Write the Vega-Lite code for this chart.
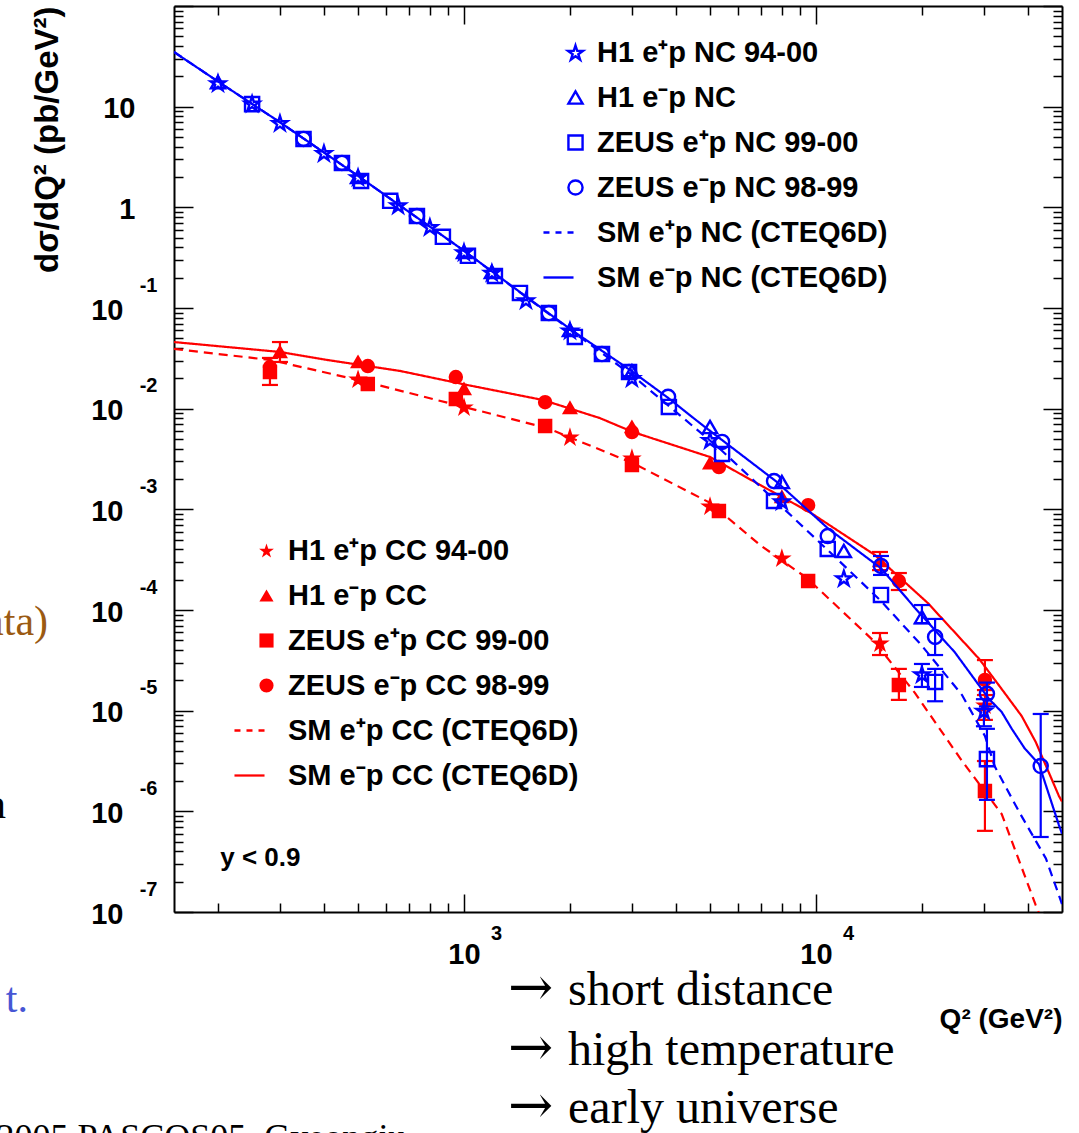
{
  "$schema": "https://vega.github.io/schema/vega-lite/v6.json",
  "width": 888,
  "height": 906,
  "autosize": {"type": "none"},
  "padding": {"left": 174, "top": 6, "right": 17, "bottom": 221},
  "background": "white",
  "config": {"view": {"stroke": null}, "font": "Liberation Sans"},
  "datasets": {
    "ncp": [
      {"s": "H1 e⁺p NC 94-00", "q": 200, "v": 17.2},
      {"s": "H1 e⁺p NC 94-00", "q": 250, "v": 10.8},
      {"s": "H1 e⁺p NC 94-00", "q": 300, "v": 6.9},
      {"s": "H1 e⁺p NC 94-00", "q": 400, "v": 3.47},
      {"s": "H1 e⁺p NC 94-00", "q": 500, "v": 2.0},
      {"s": "H1 e⁺p NC 94-00", "q": 650, "v": 1.05},
      {"s": "H1 e⁺p NC 94-00", "q": 800, "v": 0.64},
      {"s": "H1 e⁺p NC 94-00", "q": 1000, "v": 0.36},
      {"s": "H1 e⁺p NC 94-00", "q": 1200, "v": 0.225},
      {"s": "H1 e⁺p NC 94-00", "q": 1500, "v": 0.12},
      {"s": "H1 e⁺p NC 94-00", "q": 2000, "v": 0.06},
      {"s": "H1 e⁺p NC 94-00", "q": 3000, "v": 0.0202},
      {"s": "H1 e⁺p NC 94-00", "q": 5000, "v": 0.00489},
      {"s": "H1 e⁺p NC 94-00", "q": 8000, "v": 0.00121},
      {"s": "H1 e⁺p NC 94-00", "q": 12000, "v": 0.000208},
      {"s": "H1 e⁺p NC 94-00", "q": 20000, "v": 2.31e-5, "lo": 1.72e-5, "hi": 2.91e-5},
      {"s": "H1 e⁺p NC 94-00", "q": 30000, "v": 1.0e-5, "lo": 7e-6, "hi": 1.3e-5},
      {"s": "H1 e⁻p NC", "q": 200, "v": 17.5},
      {"s": "H1 e⁻p NC", "q": 500, "v": 2.0},
      {"s": "H1 e⁻p NC", "q": 1000, "v": 0.36},
      {"s": "H1 e⁻p NC", "q": 1200, "v": 0.228},
      {"s": "H1 e⁻p NC", "q": 2000, "v": 0.0605},
      {"s": "H1 e⁻p NC", "q": 3000, "v": 0.0235},
      {"s": "H1 e⁻p NC", "q": 5000, "v": 0.00658},
      {"s": "H1 e⁻p NC", "q": 8000, "v": 0.00187},
      {"s": "H1 e⁻p NC", "q": 12000, "v": 0.000386},
      {"s": "H1 e⁻p NC", "q": 20000, "v": 8.5e-5, "lo": 7.4e-5, "hi": 1.12e-4},
      {"s": "ZEUS e⁺p NC 99-00", "q": 250, "v": 10.6},
      {"s": "ZEUS e⁺p NC 99-00", "q": 350, "v": 4.78},
      {"s": "ZEUS e⁺p NC 99-00", "q": 450, "v": 2.76},
      {"s": "ZEUS e⁺p NC 99-00", "q": 510, "v": 1.83},
      {"s": "ZEUS e⁺p NC 99-00", "q": 617, "v": 1.16},
      {"s": "ZEUS e⁺p NC 99-00", "q": 735, "v": 0.82},
      {"s": "ZEUS e⁺p NC 99-00", "q": 871, "v": 0.51},
      {"s": "ZEUS e⁺p NC 99-00", "q": 1026, "v": 0.33},
      {"s": "ZEUS e⁺p NC 99-00", "q": 1224, "v": 0.208},
      {"s": "ZEUS e⁺p NC 99-00", "q": 1442, "v": 0.141},
      {"s": "ZEUS e⁺p NC 99-00", "q": 1742, "v": 0.0891},
      {"s": "ZEUS e⁺p NC 99-00", "q": 2065, "v": 0.0516},
      {"s": "ZEUS e⁺p NC 99-00", "q": 2466, "v": 0.0349},
      {"s": "ZEUS e⁺p NC 99-00", "q": 2944, "v": 0.0231},
      {"s": "ZEUS e⁺p NC 99-00", "q": 3820, "v": 0.0104},
      {"s": "ZEUS e⁺p NC 99-00", "q": 5410, "v": 0.00355},
      {"s": "ZEUS e⁺p NC 99-00", "q": 7600, "v": 0.00121},
      {"s": "ZEUS e⁺p NC 99-00", "q": 10800, "v": 0.000404},
      {"s": "ZEUS e⁺p NC 99-00", "q": 15300, "v": 0.000141},
      {"s": "ZEUS e⁺p NC 99-00", "q": 21800, "v": 1.93e-5, "lo": 1.24e-5, "hi": 2.6e-5},
      {"s": "ZEUS e⁺p NC 99-00", "q": 30600, "v": 3.3e-6, "lo": 1.3e-6, "hi": 6.6e-6},
      {"s": "ZEUS e⁻p NC 98-99", "q": 350, "v": 4.78},
      {"s": "ZEUS e⁻p NC 98-99", "q": 450, "v": 2.76},
      {"s": "ZEUS e⁻p NC 98-99", "q": 735, "v": 0.82},
      {"s": "ZEUS e⁻p NC 98-99", "q": 1742, "v": 0.0891},
      {"s": "ZEUS e⁻p NC 98-99", "q": 2466, "v": 0.0349},
      {"s": "ZEUS e⁻p NC 98-99", "q": 2944, "v": 0.0231},
      {"s": "ZEUS e⁻p NC 98-99", "q": 3800, "v": 0.0131},
      {"s": "ZEUS e⁻p NC 98-99", "q": 5410, "v": 0.00467},
      {"s": "ZEUS e⁻p NC 98-99", "q": 7600, "v": 0.00191},
      {"s": "ZEUS e⁻p NC 98-99", "q": 10800, "v": 0.000543},
      {"s": "ZEUS e⁻p NC 98-99", "q": 15300, "v": 0.000274, "lo": 0.000223, "hi": 0.000344},
      {"s": "ZEUS e⁻p NC 98-99", "q": 21800, "v": 5.4e-5, "lo": 3.57e-5, "hi": 8.15e-5},
      {"s": "ZEUS e⁻p NC 98-99", "q": 30600, "v": 1.47e-5, "lo": 1.1e-5, "hi": 1.9e-5},
      {"s": "ZEUS e⁻p NC 98-99", "q": 43500, "v": 2.82e-6, "lo": 5.56e-7, "hi": 9.27e-6}
    ],
    "ccp": [
      {"s": "H1 e⁺p CC 94-00", "q": 500, "v": 0.0197},
      {"s": "H1 e⁺p CC 94-00", "q": 1000, "v": 0.0104},
      {"s": "H1 e⁺p CC 94-00", "q": 2000, "v": 0.00524},
      {"s": "H1 e⁺p CC 94-00", "q": 3000, "v": 0.00324},
      {"s": "H1 e⁺p CC 94-00", "q": 5000, "v": 0.00108},
      {"s": "H1 e⁺p CC 94-00", "q": 8000, "v": 0.000329},
      {"s": "H1 e⁺p CC 94-00", "q": 15200, "v": 4.7e-5, "lo": 3.57e-5, "hi": 5.91e-5},
      {"s": "H1 e⁺p CC 94-00", "q": 30200, "v": 1.14e-5, "lo": 8.1e-6, "hi": 1.43e-5},
      {"s": "H1 e⁻p CC", "q": 300, "v": 0.0366, "lo": 0.0291, "hi": 0.0459},
      {"s": "H1 e⁻p CC", "q": 500, "v": 0.0291},
      {"s": "H1 e⁻p CC", "q": 1000, "v": 0.0157},
      {"s": "H1 e⁻p CC", "q": 2000, "v": 0.0102},
      {"s": "H1 e⁻p CC", "q": 3000, "v": 0.00658},
      {"s": "H1 e⁻p CC", "q": 5000, "v": 0.00288},
      {"s": "H1 e⁻p CC", "q": 8000, "v": 0.00133},
      {"s": "H1 e⁻p CC", "q": 15200, "v": 0.000307, "lo": 0.000249, "hi": 0.000377},
      {"s": "ZEUS e⁺p CC 99-00", "q": 281, "v": 0.0231, "lo": 0.0172, "hi": 0.0319},
      {"s": "ZEUS e⁺p CC 99-00", "q": 533, "v": 0.0176},
      {"s": "ZEUS e⁺p CC 99-00", "q": 948, "v": 0.0125},
      {"s": "ZEUS e⁺p CC 99-00", "q": 1700, "v": 0.00673},
      {"s": "ZEUS e⁺p CC 99-00", "q": 3000, "v": 0.00276},
      {"s": "ZEUS e⁺p CC 99-00", "q": 5300, "v": 0.000963},
      {"s": "ZEUS e⁺p CC 99-00", "q": 9500, "v": 0.000194},
      {"s": "ZEUS e⁺p CC 99-00", "q": 17200, "v": 1.8e-5, "lo": 1.28e-5, "hi": 2.6e-5},
      {"s": "ZEUS e⁺p CC 99-00", "q": 30200, "v": 1.59e-6, "lo": 6.4e-7, "hi": 3.16e-6},
      {"s": "ZEUS e⁻p CC 98-99", "q": 281, "v": 0.0259},
      {"s": "ZEUS e⁻p CC 98-99", "q": 533, "v": 0.0265},
      {"s": "ZEUS e⁻p CC 98-99", "q": 948, "v": 0.0206},
      {"s": "ZEUS e⁻p CC 98-99", "q": 1700, "v": 0.0116},
      {"s": "ZEUS e⁻p CC 98-99", "q": 3000, "v": 0.00586},
      {"s": "ZEUS e⁻p CC 98-99", "q": 5300, "v": 0.00263},
      {"s": "ZEUS e⁻p CC 98-99", "q": 9500, "v": 0.0011},
      {"s": "ZEUS e⁻p CC 98-99", "q": 17200, "v": 0.000194, "lo": 0.000158, "hi": 0.000233},
      {"s": "ZEUS e⁻p CC 98-99", "q": 30200, "v": 2.02e-5, "lo": 1.6e-5, "hi": 3.18e-5}
    ],
    "ncc": [
      {"c": "e-p", "q": 150, "v": 34.9}, {"c": "e-p", "q": 200, "v": 17.8}, {"c": "e-p", "q": 300, "v": 7.0},
      {"c": "e-p", "q": 500, "v": 2.05}, {"c": "e-p", "q": 1000, "v": 0.37}, {"c": "e-p", "q": 2000, "v": 0.062},
      {"c": "e-p", "q": 3000, "v": 0.0235}, {"c": "e-p", "q": 3800, "v": 0.0128}, {"c": "e-p", "q": 4700, "v": 0.0071},
      {"c": "e-p", "q": 7700, "v": 0.0019}, {"c": "e-p", "q": 10800, "v": 0.00065}, {"c": "e-p", "q": 15300, "v": 0.00026},
      {"c": "e-p", "q": 19100, "v": 0.000105}, {"c": "e-p", "q": 24800, "v": 3.8e-5}, {"c": "e-p", "q": 31000, "v": 1.31e-5},
      {"c": "e-p", "q": 33700, "v": 9.7e-6}, {"c": "e-p", "q": 36000, "v": 6.6e-6}, {"c": "e-p", "q": 39200, "v": 4.2e-6},
      {"c": "e-p", "q": 43000, "v": 2.95e-6}, {"c": "e-p", "q": 49000, "v": 7.3e-7}, {"c": "e-p", "q": 50000, "v": 6.0e-7},
      {"c": "e+p", "q": 150, "v": 34.9}, {"c": "e+p", "q": 200, "v": 17.8}, {"c": "e+p", "q": 300, "v": 7.0},
      {"c": "e+p", "q": 500, "v": 2.05}, {"c": "e+p", "q": 1000, "v": 0.37}, {"c": "e+p", "q": 2000, "v": 0.061},
      {"c": "e+p", "q": 3000, "v": 0.0215}, {"c": "e+p", "q": 3800, "v": 0.0108}, {"c": "e+p", "q": 5330, "v": 0.004},
      {"c": "e+p", "q": 7740, "v": 0.00118}, {"c": "e+p", "q": 11250, "v": 0.000344}, {"c": "e+p", "q": 15300, "v": 0.000123},
      {"c": "e+p", "q": 19900, "v": 4.5e-5}, {"c": "e+p", "q": 26000, "v": 1.43e-5}, {"c": "e+p", "q": 30200, "v": 5.6e-6},
      {"c": "e+p", "q": 32200, "v": 2.8e-6}, {"c": "e+p", "q": 37700, "v": 1.0e-6}, {"c": "e+p", "q": 45000, "v": 3.4e-7},
      {"c": "e+p", "q": 50000, "v": 1.2e-7}
    ],
    "ccc": [
      {"c": "e-p", "q": 150, "v": 0.0459}, {"c": "e-p", "q": 300, "v": 0.0366}, {"c": "e-p", "q": 408, "v": 0.0305},
      {"c": "e-p", "q": 658, "v": 0.0237}, {"c": "e-p", "q": 1020, "v": 0.0172}, {"c": "e-p", "q": 1675, "v": 0.0122},
      {"c": "e-p", "q": 2430, "v": 0.00807}, {"c": "e-p", "q": 3020, "v": 0.00586}, {"c": "e-p", "q": 5000, "v": 0.00331},
      {"c": "e-p", "q": 6930, "v": 0.00175}, {"c": "e-p", "q": 9680, "v": 0.00092}, {"c": "e-p", "q": 14700, "v": 0.000352},
      {"c": "e-p", "q": 20800, "v": 0.000117}, {"c": "e-p", "q": 29100, "v": 3.26e-5}, {"c": "e-p", "q": 33700, "v": 1.64e-5},
      {"c": "e-p", "q": 38400, "v": 8.85e-6}, {"c": "e-p", "q": 42100, "v": 4.89e-6}, {"c": "e-p", "q": 49000, "v": 1.42e-6},
      {"c": "e-p", "q": 50000, "v": 1.25e-6},
      {"c": "e+p", "q": 150, "v": 0.0392}, {"c": "e+p", "q": 281, "v": 0.0305}, {"c": "e+p", "q": 500, "v": 0.0193},
      {"c": "e+p", "q": 1000, "v": 0.0104}, {"c": "e+p", "q": 1720, "v": 0.00643}, {"c": "e+p", "q": 3020, "v": 0.00288},
      {"c": "e+p", "q": 5000, "v": 0.00116}, {"c": "e+p", "q": 6930, "v": 0.000443}, {"c": "e+p", "q": 9420, "v": 0.000208},
      {"c": "e+p", "q": 14700, "v": 4.81e-5}, {"c": "e+p", "q": 19100, "v": 1.5e-5}, {"c": "e+p", "q": 26000, "v": 3.16e-6},
      {"c": "e+p", "q": 33700, "v": 9.4e-7}, {"c": "e+p", "q": 42100, "v": 1.17e-7}, {"c": "e+p", "q": 44000, "v": 8e-8}
    ],
    "arrows": [
      {"t": "→", "q": 1334, "v": 1.19e-8},
      {"t": "→", "q": 1334, "v": 3.03e-9},
      {"t": "→", "q": 1334, "v": 8.0e-10}
    ],
    "slide": [
      {"t": "short distance", "q": 1975, "v": 1.19e-8},
      {"t": "high temperature", "q": 1975, "v": 3.03e-9},
      {"t": "early universe", "q": 1975, "v": 8.0e-10}
    ],
    "slideFoot": [
      {"t": "2005 PASCOS05, Gyeongju", "q": 47, "v": 4.4e-10}
    ],
    "slideR": [
      {"t": "n", "q": 50, "v": 8.6e-7}
    ],
    "slideBrown": [
      {"t": "(data)", "q": 65.8, "v": 5.65e-5}
    ],
    "slideBlue": [
      {"t": "t.", "q": 57.7, "v": 1.016e-8}
    ],
    "note": [
      {"t": "y < 0.9", "q": 203, "v": 2.86e-7}
    ]
  },
  "layer": [
    {
      "layer": [
        {
          "data": {"name": "ccc"},
          "mark": {"type": "line", "color": "#ff0000", "strokeWidth": 2.2, "clip": true},
          "encoding": {
            "x": {"field": "q", "type": "quantitative", "scale": {"type": "log", "domain": [150, 50000], "nice": false},
              "axis": {"orient": "top", "values": [200,300,400,500,600,700,800,900,1000,2000,3000,4000,5000,6000,7000,8000,9000,10000,20000,30000,40000],
                "labels": false, "title": null, "grid": false, "domainColor": "black", "domainWidth": 2, "tickColor": "black", "tickWidth": 1.5,
                "tickSize": {"condition": {"test": "datum.value == 1000 || datum.value == 10000", "value": -18}, "value": -9}}},
            "y": {"field": "v", "type": "quantitative", "scale": {"type": "log", "domain": [1e-7, 100], "nice": false},
              "axis": {"orient": "right", "values": [1e-7,2e-7,3e-7,4e-7,5e-7,6e-7,7e-7,8e-7,9e-7,1e-6,2e-6,3e-6,4e-6,5e-6,6e-6,7e-6,8e-6,9e-6,1e-5,2e-5,3e-5,4e-5,5e-5,6e-5,7e-5,8e-5,9e-5,0.0001,0.0002,0.0003,0.0004,0.0005,0.0006,0.0007,0.0008,0.0009,0.001,0.002,0.003,0.004,0.005,0.006,0.007,0.008,0.009,0.01,0.02,0.03,0.04,0.05,0.06,0.07,0.08,0.09,0.1,0.2,0.3,0.4,0.5,0.6,0.7,0.8,0.9,1,2,3,4,5,6,7,8,9,10,20,30,40,50,60,70,80,90,100],
                "labels": false, "title": null, "grid": false, "domainColor": "black", "domainWidth": 2, "tickColor": "black", "tickWidth": 1.5,
                "tickSize": {"condition": {"test": "abs(log(datum.value)/LN10 - round(log(datum.value)/LN10)) < 0.001", "value": -19}, "value": -9}}},
            "strokeDash": {"field": "c", "type": "nominal", "scale": {"domain": ["e+p", "e-p"], "range": [[9, 6], [1, 0]]}, "legend": null}
          }
        },
        {
          "data": {"name": "ccp"},
          "mark": {"type": "rule", "color": "#ff0000", "strokeWidth": 2.2, "clip": true},
          "encoding": {
            "x": {"field": "q", "type": "quantitative", "scale": {"type": "log", "domain": [150, 50000], "nice": false}, "axis": null},
            "y": {"field": "lo", "type": "quantitative", "scale": {"type": "log", "domain": [1e-7, 100], "nice": false}, "axis": null},
            "y2": {"field": "hi"}
          }
        },
        {
          "data": {"name": "ccp"},
          "mark": {"type": "point", "shape": "stroke", "size": 256, "color": "#ff0000", "strokeWidth": 2.2, "opacity": 1, "clip": true},
          "encoding": {
            "x": {"field": "q", "type": "quantitative", "scale": {"type": "log", "domain": [150, 50000], "nice": false}, "axis": null},
            "y": {"field": "lo", "type": "quantitative", "scale": {"type": "log", "domain": [1e-7, 100], "nice": false}, "axis": null}
          }
        },
        {
          "data": {"name": "ccp"},
          "mark": {"type": "point", "shape": "stroke", "size": 256, "color": "#ff0000", "strokeWidth": 2.2, "opacity": 1, "clip": true},
          "encoding": {
            "x": {"field": "q", "type": "quantitative", "scale": {"type": "log", "domain": [150, 50000], "nice": false}, "axis": null},
            "y": {"field": "hi", "type": "quantitative", "scale": {"type": "log", "domain": [1e-7, 100], "nice": false}, "axis": null}
          }
        },
        {
          "data": {"name": "ccp"},
          "mark": {"type": "point", "filled": true, "color": "#ff0000", "stroke": "#ff0000", "strokeWidth": 2.2, "size": 150, "opacity": 1, "clip": true},
          "encoding": {
            "x": {"field": "q", "type": "quantitative", "scale": {"type": "log", "domain": [150, 50000], "nice": false}, "axis": null},
            "y": {"field": "v", "type": "quantitative", "scale": {"type": "log", "domain": [1e-7, 100], "nice": false}, "axis": null},
            "shape": {"field": "s", "type": "nominal",
              "scale": {"domain": ["H1 e⁺p CC 94-00", "H1 e⁻p CC", "ZEUS e⁺p CC 99-00", "ZEUS e⁻p CC 98-99", "SM e⁺p CC (CTEQ6D)", "SM e⁻p CC (CTEQ6D)"],
                "range": ["M0,-0.99L0.247,-0.23L1.046,-0.23L0.4,0.24L0.647,1.0L0,0.53L-0.647,1.0L-0.4,0.24L-1.046,-0.23L-0.247,-0.23Z", "triangle-up", "square", "circle",
                  "M-4.53,-0.16L-3.68,-0.16L-3.68,0.16L-4.53,0.16ZM-2.83,-0.16L-1.98,-0.16L-1.98,0.16L-2.83,0.16ZM-1.13,-0.16L-0.28,-0.16L-0.28,0.16L-1.13,0.16Z",
                  "M-4.53,-0.16L-0.28,-0.16L-0.28,0.16L-4.53,0.16Z"]},
              "legend": {"title": null, "orient": "none", "legendX": 78, "legendY": 530, "padding": 0, "rowPadding": 15, "symbolSize": 200,
                "symbolFillColor": "#ff0000", "symbolStrokeColor": "#ff0000", "symbolStrokeWidth": 2.4, "labelFont": "Liberation Sans", "labelFontWeight": "bold",
                "labelFontSize": 29, "labelColor": "black", "labelLimit": 0, "labelOffset": 7}}
          }
        }
      ],
      "resolve": {"axis": {"x": "independent", "y": "independent"}}
    },
    {
      "layer": [
        {
          "data": {"name": "ncc"},
          "mark": {"type": "line", "color": "#0000ff", "strokeWidth": 2.2, "clip": true},
          "encoding": {
            "x": {"field": "q", "type": "quantitative", "scale": {"type": "log", "domain": [150, 50000], "nice": false},
              "axis": {"orient": "bottom", "values": [200,300,400,500,600,700,800,900,1000,2000,3000,4000,5000,6000,7000,8000,9000,10000,20000,30000,40000],
                "labelExpr": "datum.value == 1000 || datum.value == 10000 ? '10' : ''", "labelOverlap": false, "labelFlush": false, "labelBound": false,
                "labelFont": "Liberation Sans", "labelFontWeight": "bold", "labelFontSize": 29, "labelColor": "black", "labelBaseline": "top", "labelPadding": 46,
                "grid": false, "domainColor": "black", "domainWidth": 2, "tickColor": "black", "tickWidth": 1.5,
                "tickSize": {"condition": {"test": "datum.value == 1000 || datum.value == 10000", "value": -18}, "value": -9},
                "title": "Q² (GeV²)", "titleAnchor": "end", "titleAlign": "right", "titleFont": "Liberation Sans", "titleFontWeight": "bold", "titleFontSize": 28, "titleColor": "black", "titlePadding": 27}},
            "y": {"field": "v", "type": "quantitative", "scale": {"type": "log", "domain": [1e-7, 100], "nice": false},
              "axis": {"orient": "left", "values": [1e-7,2e-7,3e-7,4e-7,5e-7,6e-7,7e-7,8e-7,9e-7,1e-6,2e-6,3e-6,4e-6,5e-6,6e-6,7e-6,8e-6,9e-6,1e-5,2e-5,3e-5,4e-5,5e-5,6e-5,7e-5,8e-5,9e-5,0.0001,0.0002,0.0003,0.0004,0.0005,0.0006,0.0007,0.0008,0.0009,0.001,0.002,0.003,0.004,0.005,0.006,0.007,0.008,0.009,0.01,0.02,0.03,0.04,0.05,0.06,0.07,0.08,0.09,0.1,0.2,0.3,0.4,0.5,0.6,0.7,0.8,0.9,1,2,3,4,5,6,7,8,9,10,20,30,40,50,60,70,80,90,100],
                "labelExpr": "datum.value == 100 ? '' : datum.value == 10 ? '10' : datum.value == 1 ? '1' : (abs(log(datum.value)/LN10 - round(log(datum.value)/LN10)) < 0.001 ? '10' : '')",
                "labelOverlap": false, "labelFlush": false, "labelBound": false,
                "labelFont": "Liberation Sans", "labelFontWeight": "bold", "labelFontSize": 29, "labelColor": "black", "labelBaseline": "middle", "labelAlign": "right", "labelOffset": 2,
                "labelPadding": {"condition": {"test": "datum.value >= 1", "value": 58}, "value": 70},
                "grid": false, "domainColor": "black", "domainWidth": 2, "tickColor": "black", "tickWidth": 1.5,
                "tickSize": {"condition": {"test": "abs(log(datum.value)/LN10 - round(log(datum.value)/LN10)) < 0.001", "value": -19}, "value": -9},
                "title": "dσ/dQ² (pb/GeV²)", "titleAnchor": "end", "titleFont": "Liberation Sans", "titleFontWeight": "bold", "titleFontSize": 33, "titleColor": "black", "titlePadding": 26}},
            "strokeDash": {"field": "c", "type": "nominal", "scale": {"domain": ["e+p", "e-p"], "range": [[9, 6], [1, 0]]}, "legend": null}
          }
        },
        {
          "data": {"name": "ncp"},
          "mark": {"type": "rule", "color": "#0000ff", "strokeWidth": 2.2, "clip": true},
          "encoding": {
            "x": {"field": "q", "type": "quantitative", "scale": {"type": "log", "domain": [150, 50000], "nice": false}, "axis": null},
            "y": {"field": "lo", "type": "quantitative", "scale": {"type": "log", "domain": [1e-7, 100], "nice": false}, "axis": null},
            "y2": {"field": "hi"}
          }
        },
        {
          "data": {"name": "ncp"},
          "mark": {"type": "point", "shape": "stroke", "size": 256, "color": "#0000ff", "strokeWidth": 2.2, "opacity": 1, "clip": true},
          "encoding": {
            "x": {"field": "q", "type": "quantitative", "scale": {"type": "log", "domain": [150, 50000], "nice": false}, "axis": null},
            "y": {"field": "lo", "type": "quantitative", "scale": {"type": "log", "domain": [1e-7, 100], "nice": false}, "axis": null}
          }
        },
        {
          "data": {"name": "ncp"},
          "mark": {"type": "point", "shape": "stroke", "size": 256, "color": "#0000ff", "strokeWidth": 2.2, "opacity": 1, "clip": true},
          "encoding": {
            "x": {"field": "q", "type": "quantitative", "scale": {"type": "log", "domain": [150, 50000], "nice": false}, "axis": null},
            "y": {"field": "hi", "type": "quantitative", "scale": {"type": "log", "domain": [1e-7, 100], "nice": false}, "axis": null}
          }
        },
        {
          "data": {"name": "ncp"},
          "mark": {"type": "point", "filled": false, "color": "#0000ff", "strokeWidth": 2.4, "size": 200, "opacity": 1, "clip": true},
          "encoding": {
            "x": {"field": "q", "type": "quantitative", "scale": {"type": "log", "domain": [150, 50000], "nice": false},
              "axis": {"orient": "bottom", "values": [1000, 10000], "labelExpr": "datum.value == 1000 ? '3' : '4'", "ticks": false, "tickSize": 0, "domain": false, "grid": false,
                "labelOverlap": false, "labelFlush": false, "labelBound": false,
                "labelFont": "Liberation Sans", "labelFontWeight": "bold", "labelFontSize": 20, "labelColor": "black", "labelBaseline": "top", "labelPadding": 11, "labelOffset": 32, "title": null}},
            "y": {"field": "v", "type": "quantitative", "scale": {"type": "log", "domain": [1e-7, 100], "nice": false},
              "axis": {"orient": "left", "values": [1e-7, 1e-6, 1e-5, 0.0001, 0.001, 0.01, 0.1], "labelExpr": "'-' + round(-log(datum.value)/LN10)", "ticks": false, "tickSize": 0, "domain": false, "grid": false,
                "labelOverlap": false, "labelFlush": false, "labelBound": false,
                "labelFont": "Liberation Sans", "labelFontWeight": "bold", "labelFontSize": 20, "labelColor": "black", "labelBaseline": "middle", "labelAlign": "right", "labelPadding": 17, "labelOffset": -23, "title": null}},
            "shape": {"field": "s", "type": "nominal",
              "scale": {"domain": ["H1 e⁺p NC 94-00", "H1 e⁻p NC", "ZEUS e⁺p NC 99-00", "ZEUS e⁻p NC 98-99", "SM e⁺p NC (CTEQ6D)", "SM e⁻p NC (CTEQ6D)"],
                "range": ["M0,-0.99L0.247,-0.23L1.046,-0.23L0.4,0.24L0.647,1.0L0,0.53L-0.647,1.0L-0.4,0.24L-1.046,-0.23L-0.247,-0.23Z", "triangle-up", "square", "circle", "M-4.53,0L-3.68,0M-2.83,0L-1.98,0M-1.13,0L-0.28,0", "M-4.53,0L-0.28,0"]},
              "legend": {"title": null, "orient": "none", "legendX": 387, "legendY": 32, "padding": 0, "rowPadding": 15, "symbolSize": 200,
                "symbolFillColor": "transparent", "symbolStrokeColor": "#0000ff", "symbolStrokeWidth": 2.4, "labelFont": "Liberation Sans", "labelFontWeight": "bold",
                "labelFontSize": 29, "labelColor": "black", "labelLimit": 0, "labelOffset": 7}}
          }
        }
      ],
      "resolve": {"axis": {"x": "independent", "y": "independent"}}
    },
    {
      "data": {"name": "note"},
      "mark": {"type": "text", "align": "left", "baseline": "alphabetic", "font": "Liberation Sans", "fontWeight": "bold", "fontSize": 26, "color": "black"},
      "encoding": {
        "x": {"field": "q", "type": "quantitative", "scale": {"type": "log", "domain": [150, 50000], "nice": false}, "axis": null},
        "y": {"field": "v", "type": "quantitative", "scale": {"type": "log", "domain": [1e-7, 100], "nice": false}, "axis": null},
        "text": {"field": "t"}
      }
    },
    {
      "data": {"name": "arrows"},
      "mark": {"type": "text", "align": "left", "baseline": "alphabetic", "font": "DejaVu Serif", "fontSize": 54, "color": "black"},
      "encoding": {
        "x": {"field": "q", "type": "quantitative", "scale": {"type": "log", "domain": [150, 50000], "nice": false}, "axis": null},
        "y": {"field": "v", "type": "quantitative", "scale": {"type": "log", "domain": [1e-7, 100], "nice": false}, "axis": null},
        "text": {"field": "t"}
      }
    },
    {
      "data": {"name": "slide"},
      "mark": {"type": "text", "align": "left", "baseline": "alphabetic", "font": "Liberation Serif", "fontSize": 48, "color": "black"},
      "encoding": {
        "x": {"field": "q", "type": "quantitative", "scale": {"type": "log", "domain": [150, 50000], "nice": false}, "axis": null},
        "y": {"field": "v", "type": "quantitative", "scale": {"type": "log", "domain": [1e-7, 100], "nice": false}, "axis": null},
        "text": {"field": "t"}
      }
    },
    {
      "data": {"name": "slideFoot"},
      "mark": {"type": "text", "align": "left", "baseline": "alphabetic", "font": "Liberation Serif", "fontSize": 36, "color": "black"},
      "encoding": {
        "x": {"field": "q", "type": "quantitative", "scale": {"type": "log", "domain": [150, 50000], "nice": false}, "axis": null},
        "y": {"field": "v", "type": "quantitative", "scale": {"type": "log", "domain": [1e-7, 100], "nice": false}, "axis": null},
        "text": {"field": "t"}
      }
    },
    {
      "data": {"name": "slideR"},
      "mark": {"type": "text", "align": "right", "baseline": "alphabetic", "font": "Liberation Serif", "fontSize": 42, "color": "black"},
      "encoding": {
        "x": {"field": "q", "type": "quantitative", "scale": {"type": "log", "domain": [150, 50000], "nice": false}, "axis": null},
        "y": {"field": "v", "type": "quantitative", "scale": {"type": "log", "domain": [1e-7, 100], "nice": false}, "axis": null},
        "text": {"field": "t"}
      }
    },
    {
      "data": {"name": "slideBrown"},
      "mark": {"type": "text", "align": "right", "baseline": "alphabetic", "font": "Liberation Serif", "fontSize": 42, "color": "#9b5a12"},
      "encoding": {
        "x": {"field": "q", "type": "quantitative", "scale": {"type": "log", "domain": [150, 50000], "nice": false}, "axis": null},
        "y": {"field": "v", "type": "quantitative", "scale": {"type": "log", "domain": [1e-7, 100], "nice": false}, "axis": null},
        "text": {"field": "t"}
      }
    },
    {
      "data": {"name": "slideBlue"},
      "mark": {"type": "text", "align": "right", "baseline": "alphabetic", "font": "Liberation Serif", "fontSize": 42, "color": "#4656d4"},
      "encoding": {
        "x": {"field": "q", "type": "quantitative", "scale": {"type": "log", "domain": [150, 50000], "nice": false}, "axis": null},
        "y": {"field": "v", "type": "quantitative", "scale": {"type": "log", "domain": [1e-7, 100], "nice": false}, "axis": null},
        "text": {"field": "t"}
      }
    }
  ],
  "resolve": {"axis": {"x": "independent", "y": "independent"}, "scale": {"shape": "independent"}, "legend": {"shape": "independent"}}
}
